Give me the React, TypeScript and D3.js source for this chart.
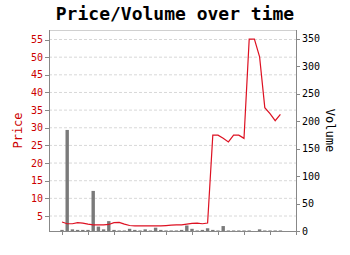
import React from "react";
import * as d3 from "d3";

const indices: number[] = Array.from({ length: 43 }, (_, i) => i);
const priceValues: number[] = [
  3.3, 2.8, 2.8, 3.1, 3.0, 2.7, 2.5, 2.5, 2.5, 2.6,
  3.1, 3.2, 2.7, 2.3, 2.2, 2.2, 2.2, 2.2, 2.2, 2.2,
  2.3, 2.4, 2.5, 2.5, 2.7, 2.9, 3.0, 2.8, 3.0, 27.9,
  27.9, 27.0, 26.0, 27.9, 27.9, 27.0, 55.1, 55.1, 50.1, 35.7,
  34.0, 32.0, 33.8,
];
const volumeValues: number[] = [
  2, 184, 3, 2, 2, 2, 73, 8, 3, 18,
  2, 1, 1, 4, 2, 1, 3, 1, 6, 2,
  1, 1, 1, 2, 10, 4, 1, 2, 5, 2,
  1, 9, 1, 1, 1, 1, 1, 0, 3, 1,
  1, 1, 1,
];
const priceTicks: number[] = [5, 10, 15, 20, 25, 30, 35, 40, 45, 50, 55];
const volumeTicks: number[] = [0, 50, 100, 150, 200, 250, 300, 350];
const xTicks: number[] = [0, 5, 10, 15, 20, 25, 30, 35, 40, 45];

const W = 350;
const H = 255;
const L = 49;
const R = 296;
const T = 30;
const B = 231;
const FONT = "'DejaVu Sans Mono', monospace";

export default function App() {
  const x = d3.scaleLinear().domain([-2.5, 45]).range([L, R]);
  const yP = d3.scaleLinear().domain([0.75, 57.7]).range([B, T]);
  const yV = d3.scaleLinear().domain([0, 366]).range([B, T]);
  const line = d3
    .line<number>()
    .x((_, i) => x(indices[i]))
    .y((d) => yP(d));
  const bw = 3.4;
  return (
    <svg
      width={W}
      height={H}
      style={{ position: "absolute", left: 0, top: 0, background: "#fff" }}
    >
      <text
        x={175}
        y={20}
        textAnchor="middle"
        fontFamily={FONT}
        fontWeight="bold"
        fontSize={18}
        fill="#000"
      >
        Price/Volume over time
      </text>
      {/* grid */}
      {priceTicks.map((t) => (
        <line
          key={"g" + t}
          x1={L}
          x2={R}
          y1={yP(t)}
          y2={yP(t)}
          stroke="#d8d8d8"
          strokeWidth={1}
          strokeDasharray="3,2"
        />
      ))}
      <line x1={L} x2={R} y1={T + 0.5} y2={T + 0.5} stroke="#d0d0d0" />
      {/* bars */}
      {volumeValues.map((v, i) => (
        <rect
          key={"b" + i}
          x={x(indices[i]) - bw / 2}
          y={yV(v)}
          width={bw}
          height={B - yV(v)}
          fill="#7a7a7a"
        />
      ))}
      {/* price line */}
      <path d={line(priceValues) || ""} fill="none" stroke="#dd1122" strokeWidth={1.2} />
      {/* axes */}
      <line x1={L + 0.5} x2={L + 0.5} y1={T} y2={B} stroke="#888" />
      <line x1={R + 0.5} x2={R + 0.5} y1={T} y2={B} stroke="#888" />
      <line x1={L} x2={R + 1} y1={B + 0.5} y2={B + 0.5} stroke="#888" />
      {priceTicks.map((t) => (
        <g key={"lp" + t}>
          <line x1={L - 4} x2={L} y1={Math.round(yP(t)) + 0.5} y2={Math.round(yP(t)) + 0.5} stroke="#888" />
          <text
            x={L - 6}
            y={yP(t) + 3.5}
            textAnchor="end"
            fontFamily={FONT}
            fontSize={10}
            fill="#cc0000"
          >
            {t}
          </text>
        </g>
      ))}
      {volumeTicks.map((t) => (
        <g key={"rv" + t}>
          <line x1={R} x2={R + 4} y1={Math.round(yV(t)) + 0.5} y2={Math.round(yV(t)) + 0.5} stroke="#888" />
          <text
            x={R + 6}
            y={yV(t) + 3.5}
            textAnchor="start"
            fontFamily={FONT}
            fontSize={10}
            fill="#000"
          >
            {t}
          </text>
        </g>
      ))}
      {xTicks.map((t) => (
        <line
          key={"xt" + t}
          x1={Math.round(x(t)) + 0.5}
          x2={Math.round(x(t)) + 0.5}
          y1={B}
          y2={B + 4}
          stroke="#888"
        />
      ))}
      <text
        transform={`translate(22,${(T + B) / 2}) rotate(-90)`}
        textAnchor="middle"
        fontFamily={FONT}
        fontSize={12}
        fill="#cc0000"
      >
        Price
      </text>
      <text
        transform={`translate(326,${(T + B) / 2}) rotate(90)`}
        textAnchor="middle"
        fontFamily={FONT}
        fontSize={12}
        fill="#000"
      >
        Volume
      </text>
    </svg>
  );
}
